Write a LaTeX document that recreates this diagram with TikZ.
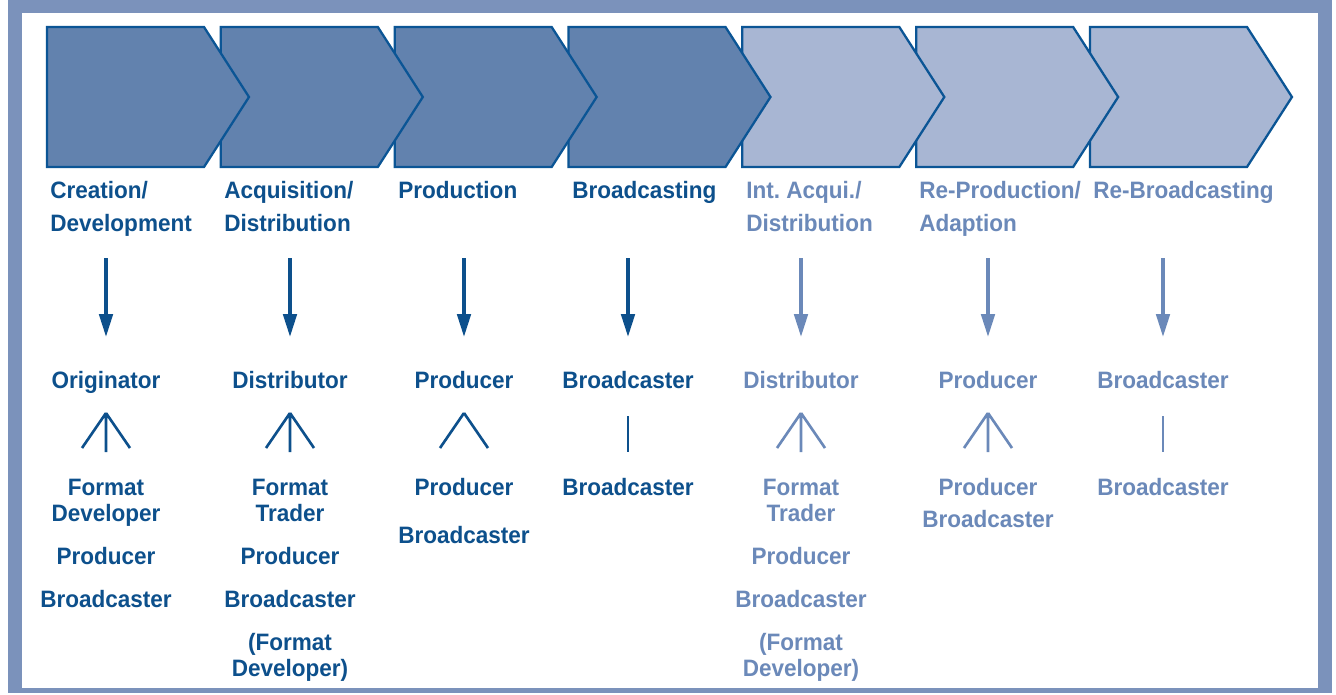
\documentclass[tikz,border=0pt]{standalone}
\usepackage{fontspec}
\newfontfamily\chainfont[FakeStretch=0.95]{Liberation Sans}
\usetikzlibrary{arrows.meta}

\definecolor{framegray}{RGB}{123,146,187}
\definecolor{stepdark}{RGB}{98,130,174}
\definecolor{steplight}{RGB}{168,182,211}
\definecolor{edgeblue}{RGB}{11,85,149}
\definecolor{textdark}{RGB}{13,80,140}
\definecolor{textlight}{RGB}{107,137,185}

\tikzset{
	stepbox/.style={draw=edgeblue, line width=1.3pt, line join=miter},
	lbl/.style={font=\chainfont\bfseries\fontsize{13.5}{16}\selectfont, inner sep=0pt, anchor=base},
	hdr/.style={lbl, anchor=base west},
	flow/.style={->, line width=2pt},
	fork/.style={line width=1.5pt},
	>={Triangle[width=7.6pt,length=13pt]}
}

\begin{document}
\begin{tikzpicture}[x=0.02cm, y=-0.02cm]
			\useasboundingbox (0,0) rectangle (1336,694);
			\fill[framegray] (8,0) rectangle (1332,693);
			\fill[white] (22,13) rectangle (1318,688);
			% value chain steps, right one first so the left tips lie on top
			\foreach \i/\f in {7/steplight,6/steplight,5/steplight,4/stepdark,3/stepdark,2/stepdark,1/stepdark}{
				\pgfmathsetmacro\sx{47+173.83*(\i-1)}
				\path[stepbox, fill=\f] (\sx,27) -- ++(157,0) -- ++(45,70) -- ++(-45,70) -- ++(-157,0) -- cycle;
			}
			% step titles
			\node[hdr, textdark] (h1a) at (50,198) {Creation/};
			\node[hdr, textdark] (h1b) at (50,231) {Development};
			\node[hdr, textdark] (h2a) at (224,198) {Acquisition/};
			\node[hdr, textdark] (h2b) at (224,231) {Distribution};
			\node[hdr, textdark] (h3a) at (398,198) {Production};
			\node[hdr, textdark] (h4a) at (572,198) {Broadcasting};
			\node[hdr, textlight] (h5a) at (746,198) {Int.\ Acqui./};
			\node[hdr, textlight] (h5b) at (746,231) {Distribution};
			\node[hdr, textlight] (h6a) at (919,198) {Re-Production/};
			\node[hdr, textlight] (h6b) at (919,231) {Adaption};
			\node[hdr, textlight] (h7a) at (1093,198) {Re-Broadcasting};
			% actors
			\foreach \i/\x/\c/\t in {1/106/textdark/Originator, 2/290/textdark/Distributor, 3/464/textdark/Producer,
				4/628/textdark/Broadcaster, 5/801/textlight/Distributor, 6/988/textlight/Producer, 7/1163/textlight/Broadcaster}{
				\node[lbl, \c] (role\i) at (\x,388) {\t};
				\coordinate (in\i) at (\x,258);
				\coordinate (out\i) at (\x,337);
				\draw[flow, \c] (in\i) -- (out\i);
			}
			% branches
			\foreach \i/\x/\c in {1/106/textdark, 2/290/textdark, 5/801/textlight, 6/988/textlight}{
				\coordinate (fk\i) at (\x,413);
				\draw[fork, \c] (fk\i) -- ++(-24,35) (fk\i) -- ++(24,35) (fk\i) -- ++(0,39);
			}
			\coordinate (fk3) at (464,413);
			\draw[fork, textdark] (fk3) -- ++(-24,35) (fk3) -- ++(24,35);
			\foreach \i/\x/\c in {4/628/textdark, 7/1163/textlight}{
				\coordinate (fk\i) at (\x,416);
				\draw[fork, \c] (fk\i) -- ++(0,36);
			}
			% who takes the role
			\foreach \n/\x/\y/\c/\t in {
				1a/106/495/textdark/Format, 1b/106/521/textdark/Developer, 1c/106/564/textdark/Producer, 1d/106/607/textdark/Broadcaster,
				2a/290/495/textdark/Format, 2b/290/521/textdark/Trader, 2c/290/564/textdark/Producer, 2d/290/607/textdark/Broadcaster,
				2e/290/650/textdark/(Format, 2f/290/676/textdark/Developer),
				3a/464/495/textdark/Producer, 3b/464/543/textdark/Broadcaster,
				4a/628/495/textdark/Broadcaster,
				5a/801/495/textlight/Format, 5b/801/521/textlight/Trader, 5c/801/564/textlight/Producer, 5d/801/607/textlight/Broadcaster,
				5e/801/650/textlight/(Format, 5f/801/676/textlight/Developer),
				6a/988/495/textlight/Producer, 6b/988/527/textlight/Broadcaster,
				7a/1163/495/textlight/Broadcaster}{
				\node[lbl, \c] (who\n) at (\x,\y) {\t};
			}
		\end{tikzpicture}
\end{document}
